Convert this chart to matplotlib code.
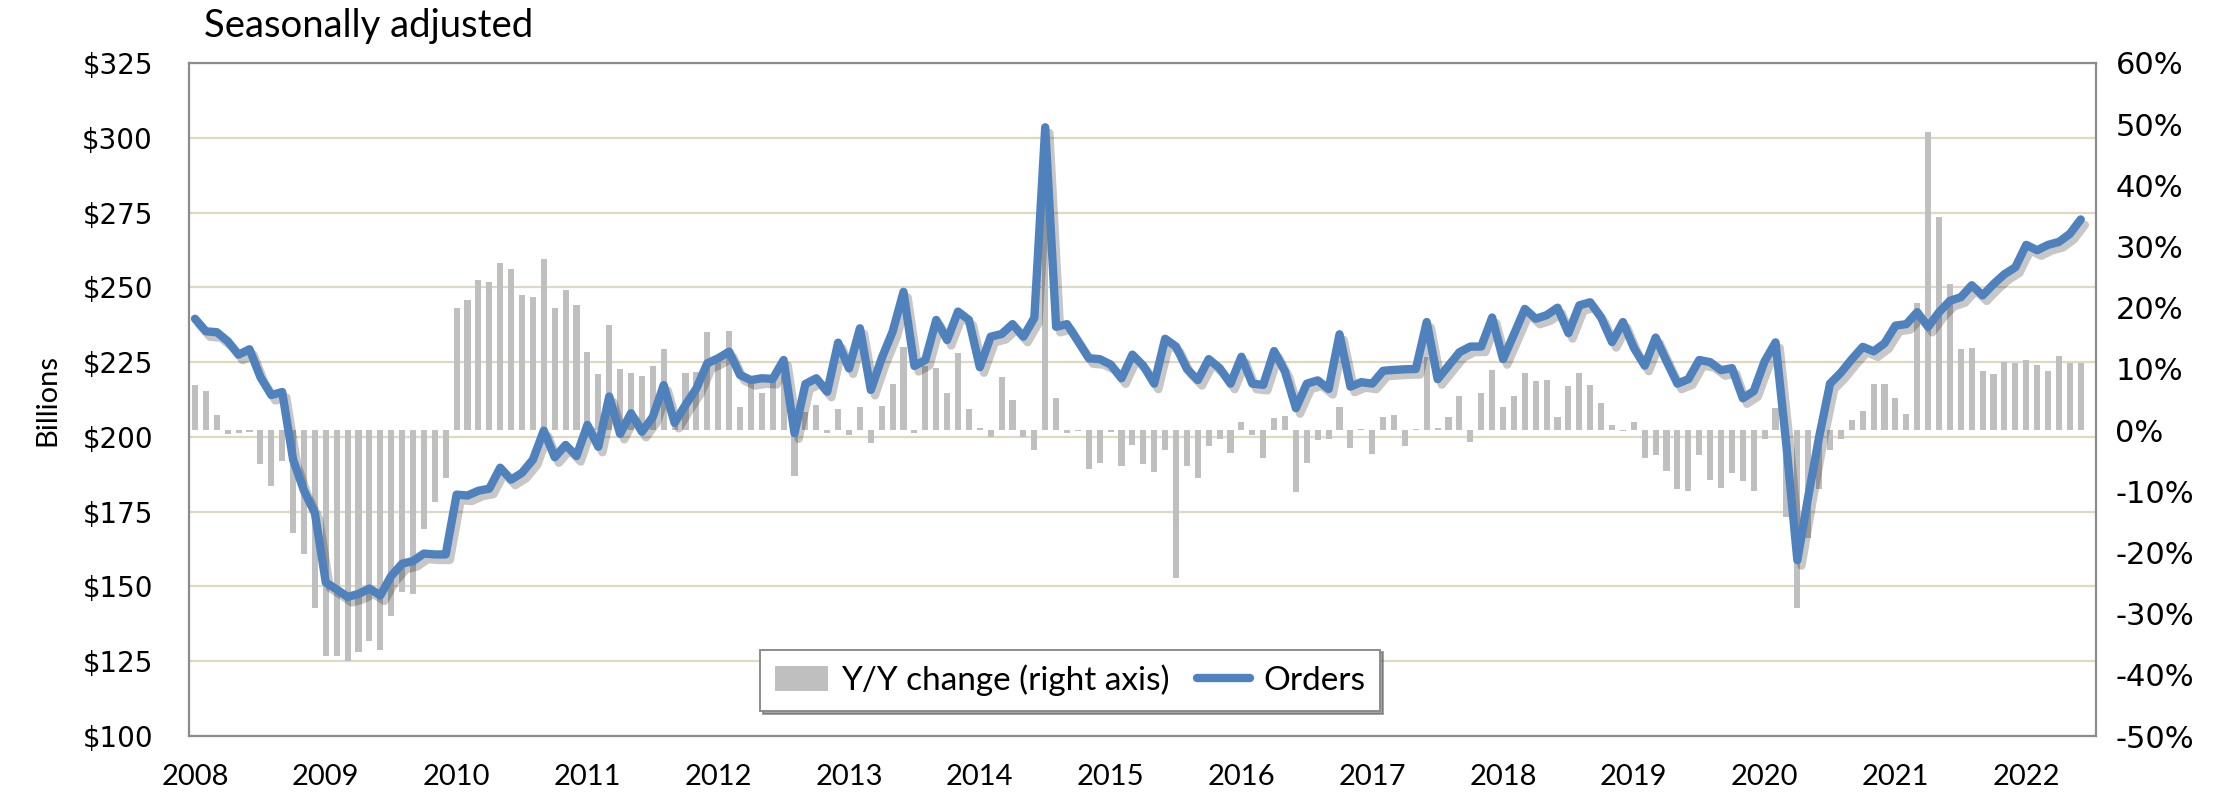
import matplotlib
matplotlib.use("Agg")
import matplotlib.pyplot as plt
import matplotlib.patheffects as pe
from matplotlib.patches import Patch
from matplotlib.lines import Line2D
from matplotlib.ticker import FuncFormatter, MultipleLocator

# ---------------- data (monthly, Jan 2008 - Jun 2022) ----------------
years = list(range(2008, 2023))
orders = [
    239.5, 235.3, 235.0, 232.0, 227.5, 229.3, 220.0, 214.0, 215.0, 192.4, 182.0, 174.5,
    151.3, 149.0, 146.5, 147.5, 149.3, 147.0, 153.5, 157.6, 158.5, 161.0, 160.7, 160.7,
    180.7, 180.4, 182.0, 182.7, 189.7, 185.7, 188.0, 192.4, 202.1, 193.2, 197.3, 193.6,
    204.0, 196.7, 213.5, 201.0, 207.9, 201.7, 206.7, 217.3, 204.7, 210.7, 216.2, 224.6,
    226.3, 228.5, 220.7, 219.0, 219.6, 219.4, 225.7, 201.2, 217.7, 219.6, 215.1, 231.5,
    222.9, 236.3, 215.7, 226.3, 235.2, 248.5, 223.7, 225.7, 239.1, 232.4, 241.9, 239.1,
    223.3, 233.5, 234.4, 237.7, 233.5, 239.8, 303.5, 236.8, 237.7, 232.0, 226.3, 226.0,
    224.2, 219.6, 227.5, 223.8, 217.8, 232.8, 230.2, 222.7, 219.0, 226.0, 223.0, 217.8,
    226.8, 217.8, 217.4, 228.7, 221.8, 209.6, 217.8, 218.9, 216.0, 234.3, 216.8, 218.3,
    217.8, 222.1, 222.4, 222.6, 222.7, 238.4, 219.3, 223.8, 228.3, 230.2, 230.2, 239.9,
    226.0, 234.3, 242.8, 239.5, 240.7, 243.2, 234.7, 244.0, 245.0, 239.9, 231.7, 238.4,
    229.8, 223.8, 233.2, 225.3, 217.8, 219.3, 225.7, 225.0, 222.3, 223.0, 212.9, 215.3,
    225.3, 231.6, 197.0, 158.8, 180.0, 200.0, 217.8, 221.5, 226.0, 230.1, 228.6, 231.3,
    237.2, 237.7, 241.7, 236.8, 241.7, 245.5, 246.7, 250.7, 247.3, 251.1, 254.4, 256.7,
    264.2, 262.4, 264.2, 265.2, 267.9, 272.7,
]
yoy_change = [
    7.4, 6.4, 2.4, -0.6, -0.5, -0.3, -5.6, -9.2, -5.0, -16.9, -20.2, -29.1,
    -37.0, -36.9, -37.7, -36.3, -34.4, -35.9, -30.4, -26.5, -26.8, -16.2, -11.8, -7.8,
    19.9, 21.3, 24.6, 24.2, 27.3, 26.4, 22.0, 21.8, 27.9, 19.9, 22.9, 20.5,
    12.8, 9.1, 17.1, 10.0, 9.3, 8.8, 10.4, 13.3, 1.0, 9.4, 9.5, 16.0,
    11.0, 16.2, 3.7, 8.0, 6.0, 8.0, 9.0, -7.5, 3.0, 4.1, -0.5, 3.4,
    -0.8, 3.8, -2.1, 3.9, 7.6, 13.6, -0.5, 10.5, 10.1, 6.1, 12.6, 3.4,
    0.3, -1.2, 8.6, 4.9, -1.2, -3.2, 38.0, 5.3, -0.4, -0.2, -6.4, -5.3,
    -0.3, -5.9, -2.5, -5.6, -6.8, -3.2, -24.2, -5.9, -7.9, -2.6, -1.4, -3.7,
    1.4, -0.8, -4.6, 2.0, 2.3, -10.2, -5.3, -1.7, -1.4, 3.8, -2.9, 0.1,
    -3.9, 2.1, 2.5, -2.6, 0.1, 12.0, 0.4, 2.1, 5.6, -1.9, 6.0, 9.8,
    3.7, 5.5, 9.4, 8.0, 8.2, 2.1, 7.2, 9.3, 7.4, 4.4, 0.9, -0.2,
    1.4, -4.6, -4.1, -6.7, -9.7, -10.0, -4.1, -8.1, -9.4, -7.0, -8.3, -10.0,
    -1.5, 3.6, -14.2, -29.0, -17.6, -9.6, -3.2, -1.5, 1.7, 3.2, 7.6, 7.6,
    5.3, 2.7, 20.7, 48.7, 34.8, 23.8, 13.2, 13.4, 9.6, 9.1, 11.2, 10.9,
    11.5, 10.7, 9.6, 12.1, 10.9, 10.9,
]
months = list(range(len(orders)))

# ---------------- style ----------------
BAR_C = "#BFBFBF"
LINE_C = "#4F81BD"
GRID_C = "#DDD9C3"
FRAME_C = "#8C8C8C"
TXT = "Lato"
NUM = "DejaVu Sans"

fig = plt.figure(figsize=(22.34, 8), dpi=100)
fig.patch.set_facecolor("white")

W, H = 2234, 800
L, R, T, B = 189, 2096, 63, 736
ax = fig.add_axes([L / W, (H - B) / H, (R - L) / W, (B - T) / H])

# dollar axis (left) with grid
ax.set_ylim(100, 325)
ax.yaxis.set_major_locator(MultipleLocator(25))
ax.yaxis.set_major_formatter(FuncFormatter(lambda v, p: f"${v:.0f}"))
ax.grid(axis="y", color=GRID_C, linewidth=1.6, zorder=0)
ax.set_axisbelow(True)
ax.set_xlim(-0.55, 174.4)
ax.set_xticks([12 * k for k in range(len(years))])
ax.set_xticklabels([str(y) for y in years], fontfamily=TXT, fontsize=21)
ax.tick_params(axis="x", length=0, pad=20)
ax.tick_params(axis="y", length=0, pad=26, labelsize=20)
for lab in ax.get_yticklabels():
    lab.set_fontfamily(NUM)
for s in ax.spines.values():
    s.set_color(FRAME_C)
    s.set_linewidth(1.6)
ax.set_ylabel("Billions", fontfamily=TXT, fontsize=21, labelpad=16)

# bars on right percent axis
axb = ax.twinx()
axb.set_ylim(-50, 60)
axb.yaxis.set_major_locator(MultipleLocator(10))
axb.yaxis.set_major_formatter(FuncFormatter(lambda v, p: f"{v:.0f}%"))
axb.tick_params(axis="y", length=0, pad=14, labelsize=22)
for lab in axb.get_yticklabels():
    lab.set_fontfamily(NUM)
    lab.set_horizontalalignment("left")
for s in axb.spines.values():
    s.set_visible(False)
axb.bar(months, yoy_change, width=0.56, color=BAR_C, zorder=2)

# line on top
axl = ax.twinx()
axl.set_ylim(100, 325)
axl.set_yticks([])
for s in axl.spines.values():
    s.set_visible(False)
axl.plot(months, orders, color=LINE_C, linewidth=6.0, solid_joinstyle="round",
         solid_capstyle="round", zorder=3,
         path_effects=[pe.SimpleLineShadow(offset=(3, -4), shadow_color="black", alpha=0.22),
                       pe.Normal()])

# legend
handles = [Patch(facecolor=BAR_C, edgecolor="none"),
           Line2D([0], [0], color=LINE_C, linewidth=6.0, solid_capstyle="round")]
leg = axl.legend(handles, ["Y/Y change (right axis)", "Orders"], loc="center",
                 bbox_to_anchor=(0.462, 0.0825), ncol=2, frameon=True, fancybox=False,
                 shadow=True, prop={"family": TXT, "size": 24}, handlelength=1.6,
                 handleheight=0.8, handletextpad=0.4, columnspacing=0.8, borderpad=0.45)
leg.get_frame().set_edgecolor(FRAME_C)
leg.get_frame().set_linewidth(1.4)

fig.text(204 / W, 1 - 26 / H, "Seasonally adjusted", fontfamily=TXT, fontsize=27.5,
         ha="left", va="center")

fig.savefig("out.png", dpi=100, facecolor="white")
